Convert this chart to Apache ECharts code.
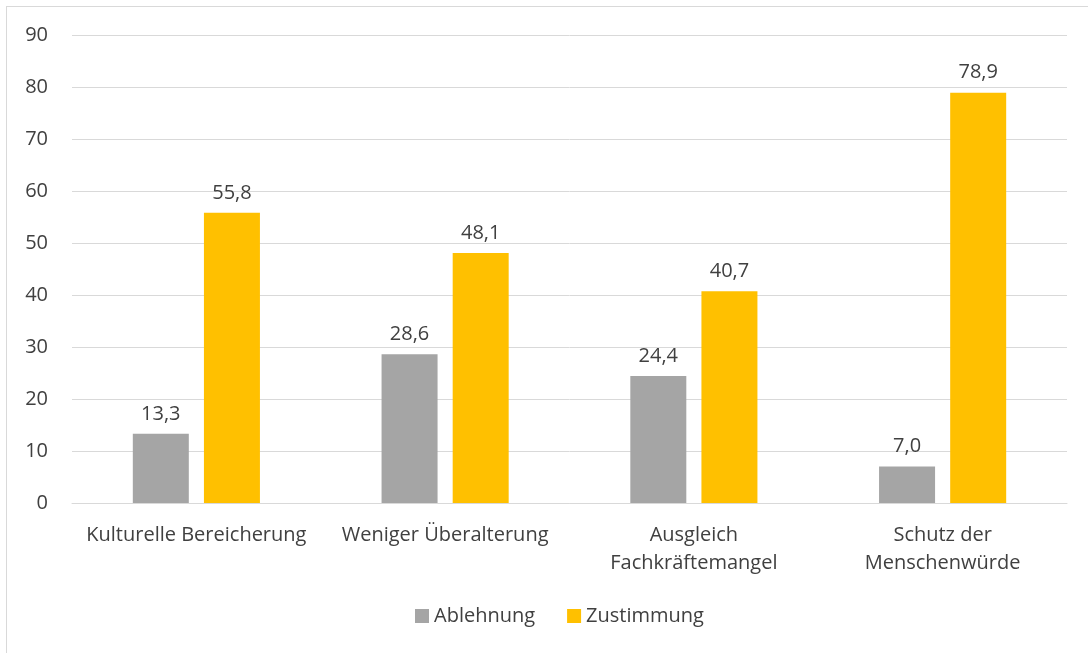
<!DOCTYPE html>
<html>
<head>
<meta charset="utf-8">
<script src="https://cdn.jsdelivr.net/npm/echarts@6/dist/echarts.min.js"></script>
<style>
  html, body { margin: 0; padding: 0; background: #fff; }
  #frame {
    position: absolute; left: 6px; top: 6px; width: 1100px; height: 700px;
    border: 1px solid #d9d9d9; box-sizing: border-box;
  }
  #chart { position: absolute; left: 0; top: 0; width: 1088px; height: 653px; }
</style>
</head>
<body>
<div id="frame"></div>
<div id="chart"></div>
<script>
// Kategorien und Werte
const categories = [
  'Kulturelle Bereicherung',
  'Weniger Überalterung',
  'Ausgleich\nFachkräftemangel',
  'Schutz der\nMenschenwürde'
]
const ablehnung = [13.3, 28.6, 24.4, 7.0]
const zustimmung = [55.8, 48.1, 40.7, 78.9]

const textColor = '#404040'
const fontFamily = '"Open Sans", "Noto Sans", sans-serif'

// Zahlen mit Komma
const fmt = (p) => p.value.toFixed(1).replace('.', ',')

const myChart = echarts.init(document.getElementById('chart'))
const option = {
  animation: false,
  textStyle: { fontFamily: fontFamily },
  color: ['#a5a5a5', '#ffc000'],
  legend: {
    bottom: 22,
    left: 410,
    itemWidth: 14,
    itemHeight: 14,
    itemGap: 32,
    icon: 'rect',
    textStyle: { color: textColor, fontSize: 20, fontFamily: fontFamily }
  },
  grid: {
    left: 72,
    right: 21,
    top: 35,
    bottom: 150
  },
  xAxis: {
    type: 'category',
    data: categories,
    axisTick: { show: false },
    axisLine: { lineStyle: { color: '#d9d9d9', width: 1 } },
    axisLabel: {
      color: textColor,
      fontSize: 20,
      margin: 18,
      lineHeight: 28,
      interval: 0
    }
  },
  yAxis: {
    type: 'value',
    min: 0,
    max: 90,
    interval: 10,
    axisLine: { show: false },
    axisTick: { show: false },
    axisLabel: { color: textColor, fontSize: 20, margin: 24 },
    splitLine: { lineStyle: { color: '#d9d9d9', width: 1 } }
  },
  series: [
    {
      name: 'Ablehnung',
      type: 'bar',
      barWidth: 56,
      barGap: '27%',
      data: ablehnung,
      label: {
        show: true,
        position: 'top',
        distance: 10,
        color: textColor,
        fontSize: 20,
        formatter: fmt
      }
    },
    {
      name: 'Zustimmung',
      type: 'bar',
      barWidth: 56,
      barGap: '27%',
      data: zustimmung,
      label: {
        show: true,
        position: 'top',
        distance: 10,
        color: textColor,
        fontSize: 20,
        formatter: fmt
      }
    }
  ]
}
myChart.setOption(option)
</script>
</body>
</html>
